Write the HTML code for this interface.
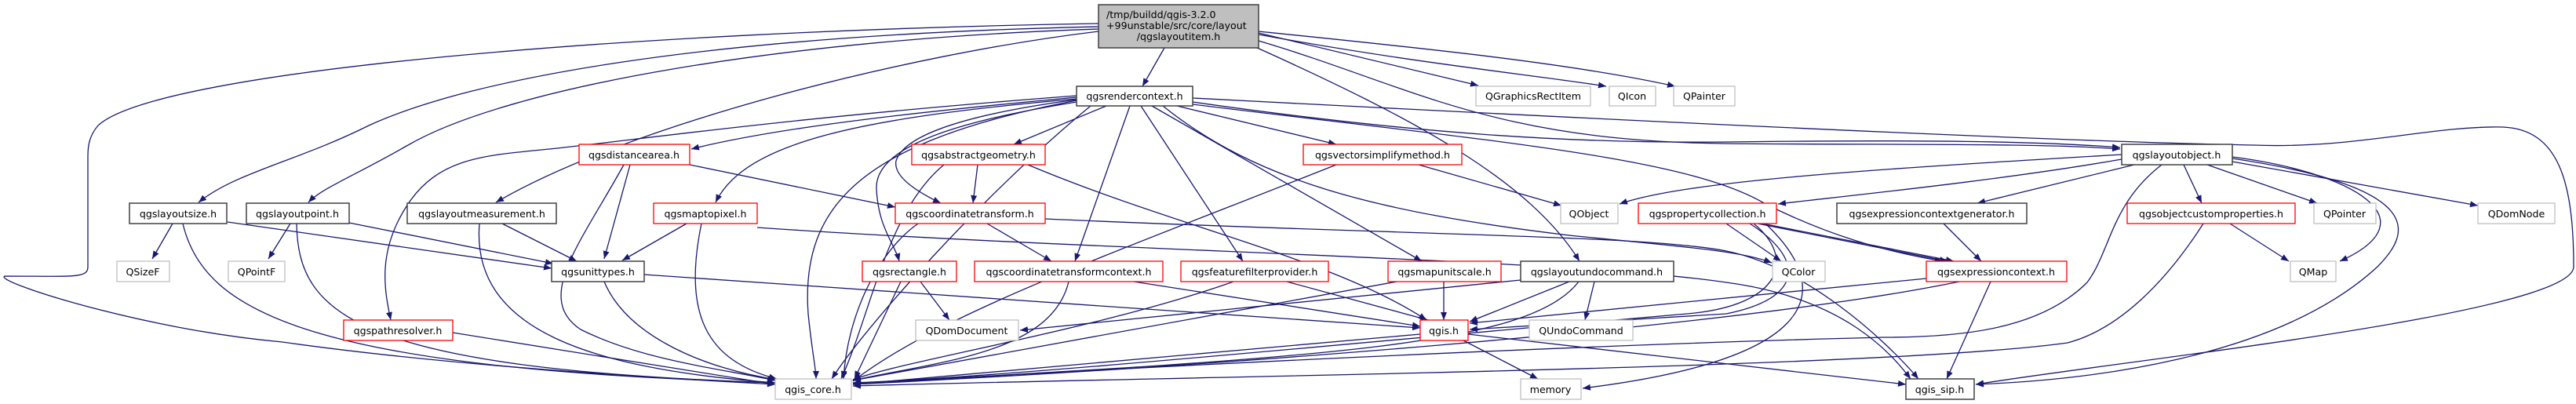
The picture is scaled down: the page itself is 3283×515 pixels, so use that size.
<!DOCTYPE html>
<html><head><meta charset="utf-8"><style>
html,body{margin:0;padding:0;background:#fff;}
svg{display:block;}
text{font-family:"DejaVu Sans","Liberation Sans",sans-serif;font-size:12.6px;fill:#000;}
.e{fill:none;stroke:#191970;stroke-width:1.3;marker-end:url(#a);}
.k{fill:#fff;stroke:#404040;stroke-width:1.5;}
.r{fill:#fff;stroke:#ff0000;stroke-width:1.3;}
.g{fill:#fff;stroke:#bfbfbf;stroke-width:1.3;}
</style></head><body>
<svg width="3283" height="515" viewBox="0 0 3283 515" xmlns="http://www.w3.org/2000/svg">
<defs><marker id="a" markerUnits="userSpaceOnUse" markerWidth="11" markerHeight="8" refX="10" refY="4" orient="auto"><path d="M0,0 L10,4 L0,8 z" fill="#191970"/></marker></defs>
<g>
<path class="e" d="M1484,61 L1456,110"/>
<path class="e" d="M1400,34 C900,45 600,100 470,160 C380,205 300,220 253,258"/>
<path class="e" d="M1400,37 C1000,50 650,110 520,185 C450,225 410,240 393,258"/>
<path class="e" d="M1400,40 C1150,70 800,160 632,258"/>
<path class="e" d="M1400,30 C800,40 200,90 125,160 C112,175 112,190 112,200 L112,340 C112,355 95,352 6,352 C-10,358 180,420 360,436 C600,470 900,485 988,490"/>
<path class="e" d="M1604,42 L1884,109"/>
<path class="e" d="M1604,44 C1800,80 1950,95 2047,110"/>
<path class="e" d="M1604,40 C1800,60 2000,80 2135,110"/>
<path class="e" d="M1600,60 C1800,150 1950,230 2013,333"/>
<path class="e" d="M1604,52 C1800,110 1900,180 2200,183 C2400,185 2600,182 2702,190"/>
<path class="e" d="M1520,125 C2000,150 2600,180 2873,185 C3000,190 3100,160 3190,162 C3260,165 3280,230 3280,340 C3280,400 2700,460 2518,490"/>
<path class="e" d="M1520,130 C1800,170 2000,183 2200,181 C2450,178 2600,180 2702,188"/>
<path class="e" d="M1372,124 C1200,140 1000,160 881,190"/>
<path class="e" d="M1372,126 C1100,150 950,180 912,258"/>
<path class="e" d="M1372,122 C1000,150 800,180 700,190 C620,198 560,200 520,260 C480,320 490,370 498,408"/>
<path class="e" d="M1372,127 C1200,150 1150,180 1142,205 C1138,225 1170,245 1199,259"/>
<path class="e" d="M1372,130 C1250,150 1115,180 1117,240 C1119,290 1140,310 1146,333"/>
<path class="e" d="M1410,135 L1292,184"/>
<path class="e" d="M1440,135 L1370,333"/>
<path class="e" d="M1454,135 L1584,333"/>
<path class="e" d="M1468,135 L1812,333"/>
<path class="e" d="M1500,135 L1703,184"/>
<path class="e" d="M1520,133 C1900,180 2150,200 2250,260 C2330,300 2400,320 2476,333"/>
<path class="e" d="M1482,135 C1600,230 1750,270 2000,300 C2150,315 2220,320 2258,335"/>
<path class="e" d="M1372,128 C1100,180 1020,260 1030,400 C1035,450 1040,470 1040,483"/>
<path class="e" d="M1390,135 C1250,250 1100,420 1060,483"/>
<path class="e" d="M2704,197 C2400,215 2150,230 2064,260"/>
<path class="e" d="M2704,203 C2550,230 2350,250 2266,260"/>
<path class="e" d="M2720,210 L2520,259"/>
<path class="e" d="M2783,210 L2806,259"/>
<path class="e" d="M2813,210 L2953,259"/>
<path class="e" d="M2845,206 L3158,262"/>
<path class="e" d="M2845,200 C3000,220 3100,280 2982,333"/>
<path class="e" d="M2845,202 C3100,240 3070,300 3030,340 C2900,460 2650,485 2518,490"/>
<path class="e" d="M2755,210 C2690,260 2690,320 2660,360 C2600,420 2500,430 2400,430 C2000,440 1400,470 1087,490"/>
<path class="e" d="M2477,285 L2525,333"/>
<path class="e" d="M2842,285 L2917,333"/>
<path class="e" d="M2808,285 C2760,360 2700,420 2635,437 C2400,470 1500,480 1087,492"/>
<path class="e" d="M2537,359 L2481,483"/>
<path class="e" d="M2455,355 L1873,412"/>
<path class="e" d="M2497,359 C2200,420 1500,470 1087,490"/>
<path class="e" d="M2200,285 L2270,333"/>
<path class="e" d="M2240,285 L2482,333"/>
<path class="e" d="M2246,285 L2490,333"/>
<path class="e" d="M2230,285 C2300,330 2300,380 2200,400 C2050,410 1950,415 1873,420"/>
<path class="e" d="M2235,285 C2290,330 2270,390 2150,400 C1800,430 1300,480 1087,488"/>
<path class="e" d="M2250,285 C2350,380 2300,460 2017,495"/>
<path class="e" d="M2000,359 L1873,410"/>
<path class="e" d="M2032,359 L2020,408"/>
<path class="e" d="M1938,357 L1300,421"/>
<path class="e" d="M2012,359 C1950,440 1700,455 1087,489"/>
<path class="e" d="M1810,426 L1087,490"/>
<path class="e" d="M1865,434 L1960,483"/>
<path class="e" d="M1871,426 L2429,490"/>
<path class="e" d="M1840,359 L1840,408"/>
<path class="e" d="M1780,359 L1087,485"/>
<path class="e" d="M1640,359 L1820,408"/>
<path class="e" d="M1572,359 C1400,420 1150,460 1087,484"/>
<path class="e" d="M1445,359 L1810,416"/>
<path class="e" d="M1362,359 C1340,450 1200,460 1087,485"/>
<path class="e" d="M1173,359 L1210,408"/>
<path class="e" d="M1148,359 L1089,483"/>
<path class="e" d="M1258,285 L1340,333"/>
<path class="e" d="M1332,279 C1800,300 2100,300 2200,320 C2300,340 2400,430 2445,483"/>
<path class="e" d="M1170,285 C1120,320 1080,400 1075,483"/>
<path class="e" d="M1246,210 L1240,259"/>
<path class="e" d="M1310,210 C1500,290 1700,330 1818,408"/>
<path class="e" d="M1203,210 C1130,270 1110,400 1072,483"/>
<path class="e" d="M1808,210 L1990,262"/>
<path class="e" d="M1703,210 C1400,330 1200,400 1087,486"/>
<path class="e" d="M803,210 L770,330"/>
<path class="e" d="M879,210 L1141,264"/>
<path class="e" d="M795,210 C740,310 680,380 740,420 C820,460 920,470 988,485"/>
<path class="e" d="M875,285 L793,332"/>
<path class="e" d="M894,285 C870,400 900,460 990,483"/>
<path class="e" d="M965,290 C1400,320 2000,330 2200,360 C2350,380 2410,450 2435,483"/>
<path class="e" d="M821,350 L1810,418"/>
<path class="e" d="M770,359 C800,430 900,470 990,484"/>
<path class="e" d="M220,285 L194,330"/>
<path class="e" d="M290,283 L703,342"/>
<path class="e" d="M233,285 C260,400 400,470 988,488"/>
<path class="e" d="M370,285 L342,330"/>
<path class="e" d="M445,284 L705,336"/>
<path class="e" d="M378,285 C380,400 450,470 988,488"/>
<path class="e" d="M640,285 L735,333"/>
<path class="e" d="M611,285 C600,420 750,470 988,488"/>
<path class="e" d="M577,424 L988,490"/>
</g>
<g>
<rect x="1400" y="6" width="204" height="55" fill="#bfbfbf" stroke="#404040" stroke-width="1.5"/>
<text x="1410" y="23">/tmp/buildd/qgis-3.2.0</text>
<text x="1410" y="37">+99unstable/src/core/layout</text>
<text x="1502" y="51" text-anchor="middle">/qgslayoutitem.h</text>
</g>
<g text-anchor="middle">
<rect class="k" x="1372" y="110" width="148" height="25"/><text x="1446" y="127">qgsrendercontext.h</text>
<rect class="g" x="1881" y="110" width="146" height="25"/><text x="1954" y="127">QGraphicsRectItem</text>
<rect class="g" x="2051" y="110" width="59" height="25"/><text x="2080" y="127">QIcon</text>
<rect class="g" x="2133" y="110" width="78" height="25"/><text x="2172" y="127">QPainter</text>
<rect class="r" x="738" y="184" width="141" height="26"/><text x="808" y="202">qgsdistancearea.h</text>
<rect class="r" x="1162" y="184" width="170" height="26"/><text x="1247" y="202">qgsabstractgeometry.h</text>
<rect class="r" x="1661" y="184" width="202" height="26"/><text x="1762" y="202">qgsvectorsimplifymethod.h</text>
<rect class="k" x="2704" y="184" width="141" height="26"/><text x="2774" y="202">qgslayoutobject.h</text>
<rect class="k" x="165" y="259" width="124" height="26"/><text x="227" y="277">qgslayoutsize.h</text>
<rect class="k" x="314" y="259" width="131" height="26"/><text x="379" y="277">qgslayoutpoint.h</text>
<rect class="k" x="519" y="259" width="190" height="26"/><text x="614" y="277">qgslayoutmeasurement.h</text>
<rect class="r" x="833" y="259" width="132" height="26"/><text x="899" y="277">qgsmaptopixel.h</text>
<rect class="r" x="1141" y="259" width="191" height="26"/><text x="1236" y="277">qgscoordinatetransform.h</text>
<rect class="g" x="1989" y="259" width="73" height="26"/><text x="2025" y="277">QObject</text>
<rect class="r" x="2088" y="259" width="176" height="26"/><text x="2176" y="277">qgspropertycollection.h</text>
<rect class="k" x="2341" y="259" width="242" height="26"/><text x="2462" y="277">qgsexpressioncontextgenerator.h</text>
<rect class="r" x="2711" y="259" width="214" height="26"/><text x="2818" y="277">qgsobjectcustomproperties.h</text>
<rect class="g" x="2949" y="259" width="79" height="26"/><text x="2988" y="277">QPointer</text>
<rect class="g" x="3158" y="259" width="98" height="26"/><text x="3207" y="277">QDomNode</text>
<rect class="g" x="149" y="333" width="67" height="26"/><text x="182" y="351">QSizeF</text>
<rect class="g" x="291" y="333" width="72" height="26"/><text x="327" y="351">QPointF</text>
<rect class="k" x="703" y="333" width="118" height="26"/><text x="762" y="351">qgsunittypes.h</text>
<rect class="r" x="1099" y="333" width="120" height="26"/><text x="1159" y="351">qgsrectangle.h</text>
<rect class="r" x="1242" y="333" width="240" height="26"/><text x="1362" y="351">qgscoordinatetransformcontext.h</text>
<rect class="r" x="1505" y="333" width="188" height="26"/><text x="1599" y="351">qgsfeaturefilterprovider.h</text>
<rect class="r" x="1769" y="333" width="144" height="26"/><text x="1841" y="351">qgsmapunitscale.h</text>
<rect class="k" x="1938" y="333" width="195" height="26"/><text x="2035" y="351">qgslayoutundocommand.h</text>
<rect class="g" x="2259" y="333" width="67" height="26"/><text x="2292" y="351">QColor</text>
<rect class="r" x="2455" y="333" width="179" height="26"/><text x="2544" y="351">qgsexpressioncontext.h</text>
<rect class="g" x="2919" y="333" width="58" height="26"/><text x="2948" y="351">QMap</text>
<rect class="r" x="438" y="408" width="139" height="26"/><text x="507" y="426">qgspathresolver.h</text>
<rect class="g" x="1167" y="408" width="131" height="26"/><text x="1232" y="426">QDomDocument</text>
<rect class="r" x="1810" y="408" width="61" height="26"/><text x="1840" y="426">qgis.h</text>
<rect class="g" x="1949" y="408" width="132" height="26"/><text x="2015" y="426">QUndoCommand</text>
<rect class="g" x="988" y="483" width="97" height="26"/><text x="1036" y="501">qgis_core.h</text>
<rect class="g" x="1938" y="483" width="77" height="26"/><text x="1976" y="501">memory</text>
<rect class="k" x="2429" y="483" width="87" height="26"/><text x="2472" y="501">qgis_sip.h</text>
</g>
</svg>
</body></html>
